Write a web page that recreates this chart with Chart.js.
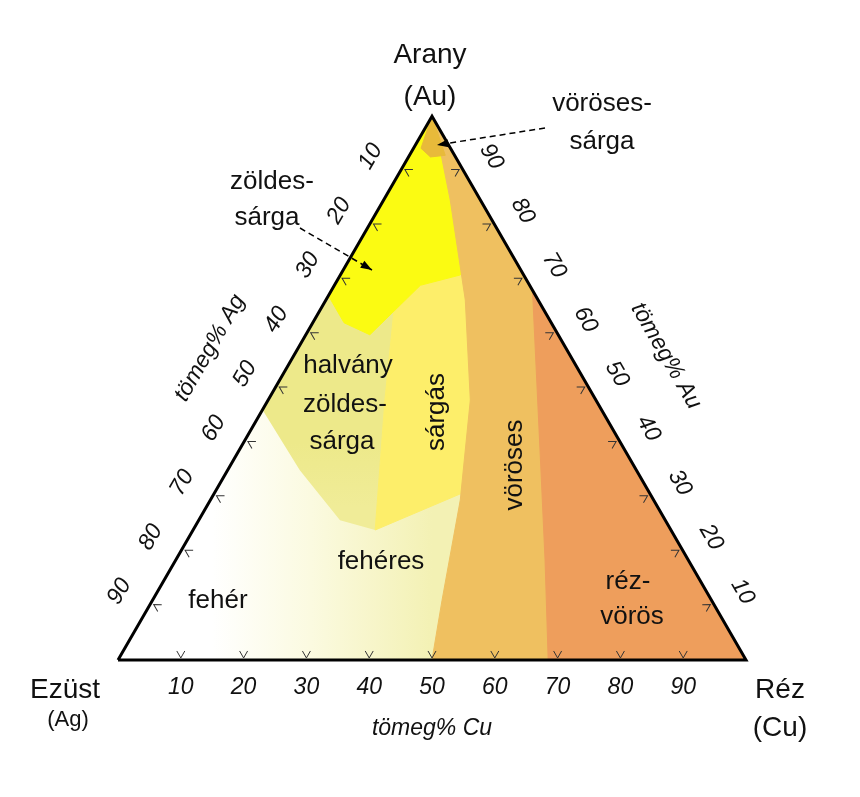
<!DOCTYPE html>
<html><head><meta charset="utf-8">
<script src="https://cdn.jsdelivr.net/npm/chart.js@4/dist/chart.umd.min.js"></script>
<style>html,body{margin:0;background:#fff}#w{width:860px;height:797px}</style>
</head><body><div id="w"><canvas id="c" width="860" height="797"></canvas></div>
<script>
// Region boundaries in ternary coordinates [Cu%, Au%] (Ag% = 100 - Cu - Au)
const triangle = [[0,0],[100,0],[0,100],[0,0]];
const feher = [[0,0],[100,0],[0,100]];
const halvanyZoldessarga = [[0,67],[0,46],[11.5,34.9],[22.5,25.7],[29,23.9],[18.6,47.8],[11,66.2],[8,80]];
const sargas = [[29,23.9],[40.4,31.3],[45,30],[30,70],[19.1,70.8],[13.7,68.9],[11,66.2],[18.6,47.8]];
const zoldessarga = [[0,67],[5,62],[10.2,59.8],[13.7,68.9],[19.1,70.8],[20,78],[10,90],[0,100]];
const voroses = [[50,0],[46.1,11.0],[39.8,29.4],[32.2,47.8],[22.2,66.2],[10.6,84.6],[4.4,93.8],[0,100],[100,0]];
const rezvoros = [[68.5,0],[58.8,18.4],[47.9,38.6],[32,68],[100,0]];
const vorosessarga = [[0,100],[1.2,94.1],[3.5,92.5],[5.7,92.8],[0,100]];
const tickValues = [10,20,30,40,50,60,70,80,90];

const H = Math.sqrt(3)/2;
const toXY = p => ({x: p[0] + p[1]/2, y: p[1]*H});
const poly = (pts, color, order, extra) => Object.assign({
  type:'line', data: pts.map(toXY).concat([toXY(pts[0])]), backgroundColor: color,
  borderColor: color, borderWidth: 1, pointRadius: 0, fill: 'shape', tension: 0, order
}, extra || {});

const baseGrad = ctx => {
  const ch = ctx.chart; if (!ch.chartArea) return '#f4f2b8';
  const sx = ch.scales.x;
  const g = ch.ctx.createLinearGradient(sx.getPixelForValue(15), 0, sx.getPixelForValue(50), 0);
  g.addColorStop(0, '#ffffff'); g.addColorStop(0.45, '#fbfae0'); g.addColorStop(1, '#f3f1b4');
  return g;
};
const halvGrad = ctx => {
  const ch = ctx.chart; if (!ch.chartArea) return '#ece98c';
  const sy = ch.scales.y;
  const g = ch.ctx.createLinearGradient(0, sy.getPixelForValue(40*H), 0, sy.getPixelForValue(28*H));
  g.addColorStop(0, '#ede98a'); g.addColorStop(1, '#f0ec98');
  return g;
};

const labels = {
  draw(chart){
    const c = chart.ctx, sx = chart.scales.x, sy = chart.scales.y;
    const P = (cu, au) => { const q = toXY([cu, au]); return [sx.getPixelForValue(q.x), sy.getPixelForValue(q.y)]; };
    c.save();
    c.strokeStyle = '#333'; c.lineWidth = 1;
    const chev = (x, y, ang) => { c.save(); c.translate(x, y); c.rotate(ang); c.beginPath(); c.moveTo(-4,-5); c.lineTo(0,2); c.lineTo(4,-5); c.stroke(); c.restore(); };
    tickValues.forEach(v => {
      let [x,y] = P(v, 0); chev(x, y-4, 0);
      [x,y] = P(0, v); chev(x+6, y, Math.PI*2/3);
      [x,y] = P(100-v, v); chev(x-6, y, -Math.PI*2/3);
    });
    c.fillStyle = '#111'; c.font = 'italic 23px "Liberation Sans", Arial'; c.textAlign = 'center'; c.textBaseline = 'middle';
    tickValues.forEach(v => {
      let [x,y] = P(v, 0); c.fillText(String(v), x, y+28);
      [x,y] = P(0, 100-v); c.save(); c.translate(x-30, y-14); c.rotate(-Math.PI/3); c.fillText(String(v), 0, 0); c.restore();
      [x,y] = P(100-v, v); c.save(); c.translate(x+28, y-14); c.rotate(Math.PI/3); c.fillText(String(v), 0, 0); c.restore();
    });
    c.font = 'italic 23px "Liberation Sans", Arial';
    c.fillText('tömeg% Cu', 432, 729);
    c.save(); c.translate(210, 348); c.rotate(-Math.PI/3); c.fillText('tömeg% Ag', 0, 0); c.restore();
    c.save(); c.translate(666, 356); c.rotate(Math.PI/3); c.fillText('tömeg% Au', 0, 0); c.restore();
    c.font = '28px "Liberation Sans", Arial';
    c.fillText('Arany', 430, 55); c.fillText('(Au)', 430, 97);
    c.fillText('Ezüst', 65, 690); c.fillText('Réz', 780, 690); c.fillText('(Cu)', 780, 728);
    c.font = '22px "Liberation Sans", Arial'; c.fillText('(Ag)', 68, 720);
    c.font = '26px "Liberation Sans", Arial';
    const t = (s,x,y) => c.fillText(s,x,y);
    t('vöröses-',602,104); t('sárga',602,142);
    t('zöldes-',272,182); t('sárga',267,218);
    t('halvány',348,366); t('zöldes-',345,405); t('sárga',342,442);
    t('fehéres',381,562); t('fehér',218,601); t('réz-',628,582); t('vörös',632,617);
    c.save(); c.translate(437,412); c.rotate(-Math.PI/2); t('sárgás',0,0); c.restore();
    c.save(); c.translate(515,465); c.rotate(-Math.PI/2); t('vöröses',0,0); c.restore();
    const arrow = (x1,y1,x2,y2) => {
      c.save(); c.setLineDash([6,4]); c.lineWidth = 1.5; c.strokeStyle = '#000';
      c.beginPath(); c.moveTo(x1,y1); c.lineTo(x2,y2); c.stroke(); c.setLineDash([]);
      const a = Math.atan2(y2-y1, x2-x1);
      c.fillStyle = '#000'; c.beginPath(); c.moveTo(x2,y2);
      c.lineTo(x2-12*Math.cos(a-0.35), y2-12*Math.sin(a-0.35));
      c.lineTo(x2-12*Math.cos(a+0.35), y2-12*Math.sin(a+0.35)); c.closePath(); c.fill(); c.restore();
    };
    arrow(545,128,437,145); arrow(300,228,372,270);
    c.restore();
  }
};
labels.id = 'labels'; labels.afterDatasetsDraw = labels.draw;

new Chart(document.getElementById('c'), {
  type: 'line',
  data: { datasets: [
    poly(feher, baseGrad, 10, {borderWidth:0}),
    poly(halvanyZoldessarga, halvGrad, 9, {borderWidth:0}),
    poly(sargas, '#fdee6a', 8),
    poly(zoldessarga, '#fbfb12', 7),
    poly(voroses, '#efc060', 6),
    poly(rezvoros, '#ee9e5c', 5),
    poly(vorosessarga, '#e8ba3a', 4),
    {type:'line', data: triangle.map(toXY), borderColor:'#000', borderWidth:3, pointRadius:0, fill:false, tension:0, order:0}
  ]},
  options: {
    responsive:false, animation:false, layout:{padding:0},
    plugins:{legend:{display:false}, tooltip:{enabled:false}},
    scales:{
      x:{type:'linear', display:false, min:-18.79, max:118.15},
      y:{type:'linear', display:false, min:-21.82, max:105.10}
    }
  },
  plugins:[labels]
});
</script></body></html>
